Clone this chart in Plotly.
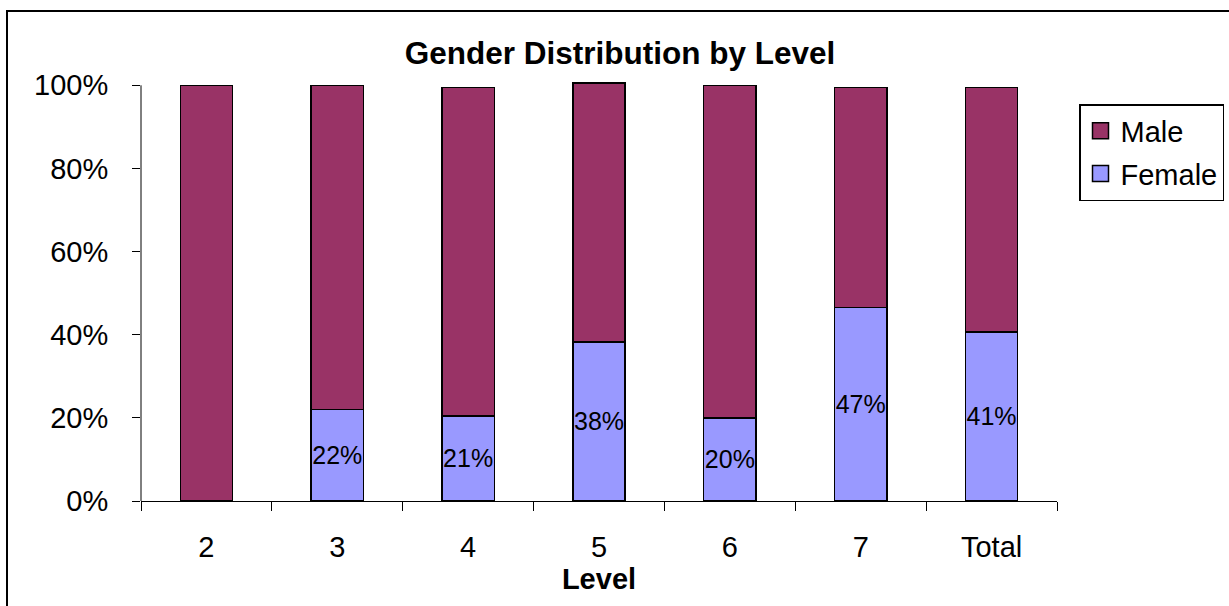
import plotly.graph_objects as go

levels = ["2", "3", "4", "5", "6", "7", "Total"]
female = [0.0, 0.22, 0.205, 0.383, 0.20, 0.465, 0.407]
male = [1.0, 0.78, 0.79, 0.622, 0.80, 0.53, 0.588]
female_labels = ["", "22%", "21%", "38%", "20%", "47%", "41%"]
y_ticks = [0, 0.2, 0.4, 0.6, 0.8, 1.0]
y_tick_text = ["0%", "20%", "40%", "60%", "80%", "100%"]
male_color = "#993366"
female_color = "#9999FF"

W, H = 1229, 606
L, R, T, B = 141, 172, 77, 105
pw, ph = W - L - R, H - T - B
FONT = "Liberation Sans, Arial"


def px(x):
    return (x - L) / pw


def py(y):
    return (H - B - y) / ph


fig = go.Figure()
fig.add_trace(go.Bar(
    x=levels, y=female, name="Female", showlegend=False,
    marker=dict(color=female_color, line=dict(color="black", width=1.5)),
    text=female_labels, textposition="inside", insidetextanchor="middle",
    textfont=dict(size=25, color="black", family=FONT),
    constraintext="none", textangle=0,
))
fig.add_trace(go.Bar(
    x=levels, y=male, name="Male", showlegend=False,
    marker=dict(color=male_color, line=dict(color="black", width=1.5)),
))
# legend entries with larger square swatches
for nm, col, grp in [("Male", male_color, "a"), ("Female", female_color, "b")]:
    fig.add_trace(go.Scatter(
        x=[None], y=[None], mode="markers", name=nm, legendgroup=grp,
        marker=dict(symbol="square", size=19, color=col,
                    line=dict(color="black", width=1.5)),
    ))

fig.update_layout(
    width=W, height=H,
    barmode="stack", bargap=0.6,
    margin=dict(l=L, r=R, t=T, b=B, autoexpand=False),
    paper_bgcolor="white", plot_bgcolor="white",
    font=dict(family=FONT, color="black", size=29),
    title=dict(text="<b>Gender Distribution by Level</b>", x=620 / W, xref="container",
               xanchor="center", y=1 - 53 / H, yref="container", yanchor="middle",
               font=dict(size=31.5)),
    uniformtext=dict(mode=False),
    legend=dict(x=px(1079), y=py(104), xanchor="left", yanchor="top",
                bordercolor="black", borderwidth=1.5, traceorder="grouped",
                tracegroupgap=2, font=dict(size=29), itemsizing="trace",
                itemwidth=30),
    xaxis=dict(showline=True, linecolor="black", linewidth=1, ticks="outside",
               tickson="boundaries", ticklen=9, tickcolor="black",
               title=dict(text="<b>Level</b>", standoff=0, font=dict(size=29)),
               tickfont=dict(size=29), showgrid=False, ticklabelstandoff=20),
    yaxis=dict(range=[0, 1.02], tickvals=y_ticks, ticktext=y_tick_text,
               ticks="outside", ticklen=8, tickcolor="black", showline=False,
               showgrid=False, zeroline=False, tickfont=dict(size=29),
               ticklabelstandoff=18),
    shapes=[
        dict(type="line", xref="paper", yref="y", x0=0, x1=0, y0=0, y1=1,
             line=dict(color="black", width=1)),
        dict(type="rect", xref="paper", yref="paper", x0=px(7), x1=px(1240),
             y0=py(615), y1=py(11), line=dict(color="black", width=2)),
    ],
)

fig.write_html("out.html")
